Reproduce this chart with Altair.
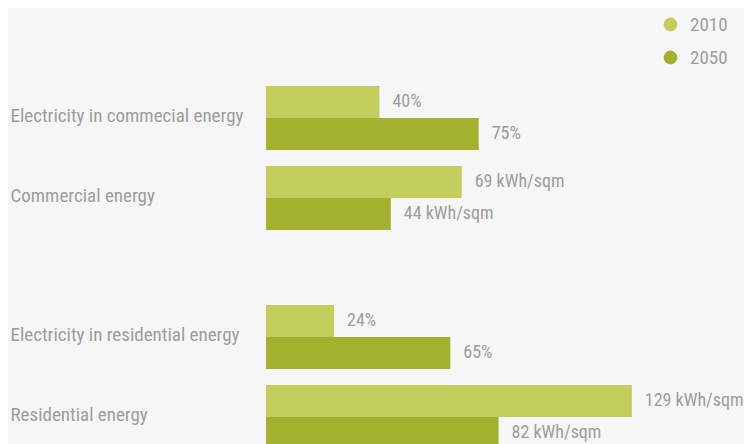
import altair as alt
import pandas as pd

# ---- data ----
categories_top = ["Electricity in commecial energy", "Commercial energy"]
categories_bottom = ["Electricity in residential energy", "Residential energy"]
years = ["2010", "2050"]
values_2010 = [40, 69, 24, 129]
values_2050 = [75, 44, 65, 82]
labels_2010 = ["40%", "69 kWh/sqm", "24%", "129 kWh/sqm"]
labels_2050 = ["75%", "44 kWh/sqm", "65%", "82 kWh/sqm"]
sector = ["commercial", "commercial", "residential", "residential"]

cats = categories_top + categories_bottom
rows = []
for i, c in enumerate(cats):
    rows.append({"category": c, "year": "2010", "value": values_2010[i],
                 "label": labels_2010[i], "sector": sector[i]})
    rows.append({"category": c, "year": "2050", "value": values_2050[i],
                 "label": labels_2050[i], "sector": sector[i]})
df = pd.DataFrame(rows)

FONT = "Liberation Sans Narrow, Roboto Condensed, Arial Narrow, Roboto"
GREY = "#9d9d9d"
LIGHT = "#c1ce5d"
DARK = "#a2b22e"

color = alt.Color(
    "year:N",
    scale=alt.Scale(domain=years, range=[LIGHT, DARK]),
    legend=alt.Legend(
        title=None, orient="none", legendX=395, legendY=-71,
        symbolType="circle", symbolSize=190, symbolStrokeWidth=0,
        labelFontSize=19, labelColor=GREY, labelFont=FONT,
        rowPadding=13, labelOffset=10,
    ),
)


def panel(cat_list):
    base = alt.Chart(df).transform_filter(
        alt.FieldOneOfPredicate(field="category", oneOf=cat_list)
    ).encode(
        y=alt.Y(
            "category:N", sort=cat_list, title=None,
            scale=alt.Scale(paddingInner=0.2, paddingOuter=0),
            axis=alt.Axis(
                domain=False, ticks=False, tickSize=0, grid=False,
                labelAlign="left", labelPadding=256, labelFontSize=19,
                labelColor=GREY, labelFont=FONT, labelLimit=300,
                labelBaseline="middle", labelOffset=-2,
            ),
        ),
        yOffset=alt.YOffset("year:N", sort=years),
        x=alt.X("value:Q", axis=None, scale=alt.Scale(domain=[0, 134], nice=False)),
    )
    bars = base.mark_bar(cornerRadius=0).encode(color=color)
    text = base.mark_text(
        align="left", baseline="middle", dx=13, fontSize=18, color=GREY, font=FONT
    ).encode(text="label:N")
    return (bars + text).properties(width=380, height=144)


chart = alt.vconcat(
    panel(categories_top), panel(categories_bottom), spacing=75
).properties(
    background="#f6f6f6",
    padding={"left": 2, "top": 7, "right": 0, "bottom": 0},
).configure_view(stroke=None).configure_concat(spacing=75)

chart.save("out.html", embed_options={"renderer": "svg", "actions": False})
